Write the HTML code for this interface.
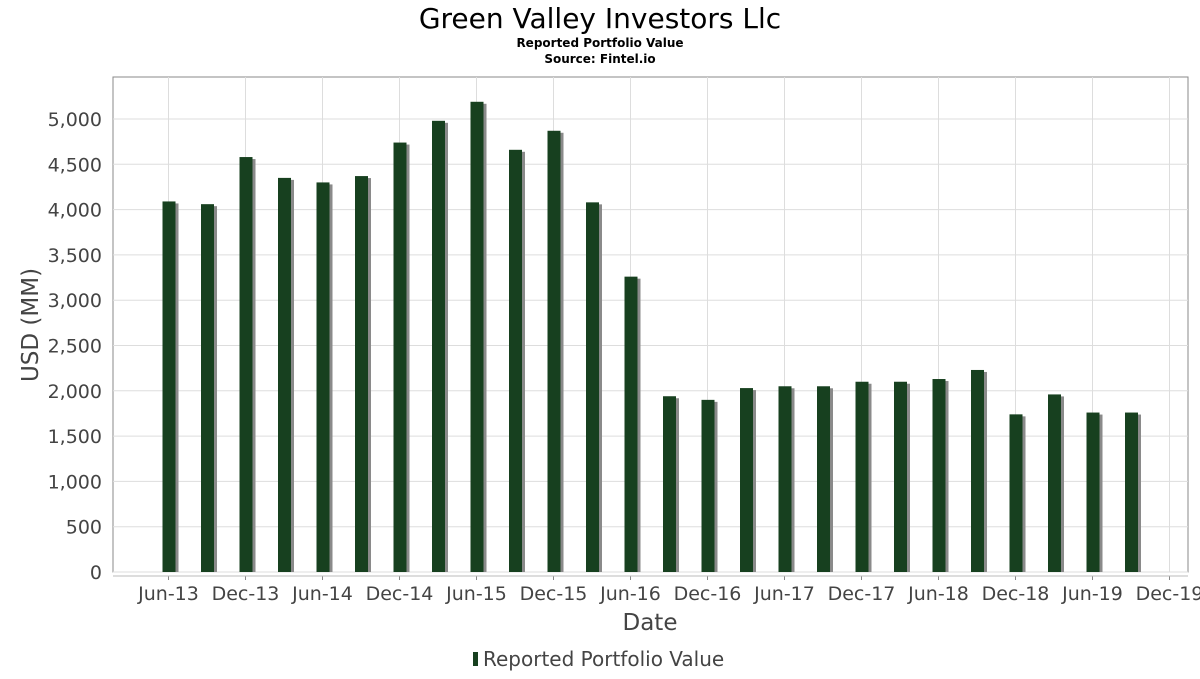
<!DOCTYPE html>
<html><head><meta charset="utf-8"><style>
body{margin:0;background:#fff;font-family:"DejaVu Sans","Liberation Sans",sans-serif;}
</style></head><body>
<svg width="1200" height="675" xmlns="http://www.w3.org/2000/svg">
<text x="600" y="28" text-anchor="middle" font-size="28" fill="#000">Green Valley Investors Llc</text>
<text x="600" y="47" text-anchor="middle" font-size="12" font-weight="bold">Reported Portfolio Value</text>
<text x="600" y="63" text-anchor="middle" font-size="12" font-weight="bold">Source: Fintel.io</text>
<rect x="113" y="77" width="1075" height="495" fill="#fff" stroke="#888"/>
<g id="grid"></g>
<g id="bars"></g>
<g id="axes"></g>
<text x="38" y="325" text-anchor="middle" font-size="23" fill="#444" transform="rotate(-90 38 325)">USD (MM)</text>
<text x="650" y="630" text-anchor="middle" font-size="23" fill="#444">Date</text>
<g>
<rect x="473" y="652" width="5" height="14" fill="#17401f"/>
<text x="483" y="666" font-size="20" fill="#444">Reported Portfolio Value</text>
</g>
</svg>
<script>
const values=[4090,4060,4580,4350,4300,4370,4740,4980,5190,4660,4870,4080,3260,1940,1900,2030,2050,2050,2100,2100,2130,2230,1740,1960,1760,1760];
const yTicks=[0,500,1000,1500,2000,2500,3000,3500,4000,4500,5000];
const xLabels=["Jun-13","Dec-13","Jun-14","Dec-14","Jun-15","Dec-15","Jun-16","Dec-16","Jun-17","Dec-17","Jun-18","Dec-18","Jun-19","Dec-19"];
const NS="http://www.w3.org/2000/svg";
const y=v=>572-v*(453/5000);
const x=i=>168.5+i*38.5;
function mk(t,a,p){const e=document.createElementNS(NS,t);for(const k in a)e.setAttribute(k,a[k]);p.appendChild(e);return e;}
const grid=document.getElementById('grid'),bars=document.getElementById('bars'),axes=document.getElementById('axes');
yTicks.forEach(v=>{
 const l=mk('line',{x1:113,x2:1188,y1:y(v),y2:y(v),stroke:'#ddd'},grid);
 
 
 const t=mk('text',{x:102,y:y(v)+7,'text-anchor':'end','font-size':19,fill:'#444'},axes);
 t.textContent=v.toLocaleString('en-US');
 
 
});
xLabels.forEach((s,i)=>{
 const xx=x(i*2);
 const l=mk('line',{x1:xx,x2:xx,y1:77,y2:572,stroke:'#ddd'},grid);
 
 
 mk('line',{x1:xx,x2:xx,y1:576,y2:580,stroke:'#888'},axes);
 const t=mk('text',{x:xx,y:600,'text-anchor':'middle','font-size':19,fill:'#444'},axes);
 t.textContent=s;
 
 
});
mk('line',{x1:113,x2:1188,y1:576,y2:576,stroke:'#bbb'},axes);
values.forEach((v,i)=>{
 const g=mk('g',{},bars);
 
 
 mk('rect',{x:x(i)+6,y:y(v)+2,width:4,height:572-y(v)-2,fill:'#8a8a8a'},g);
 mk('rect',{x:x(i)-6,y:y(v),width:13,height:572-y(v),fill:'#17401f'},g);
});
</script>
</body></html>
